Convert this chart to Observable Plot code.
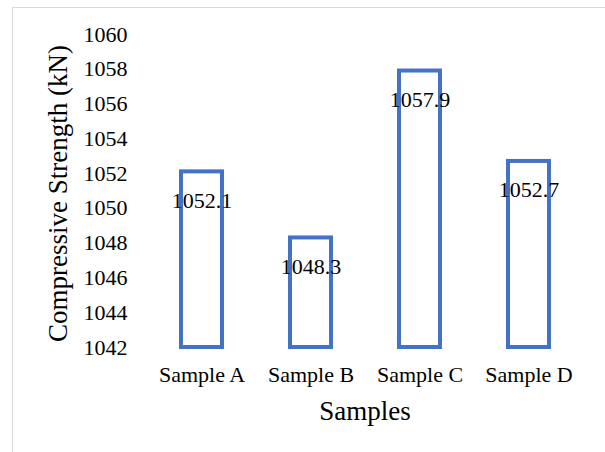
<!DOCTYPE html>
<html>
<head>
<meta charset="utf-8">
<script src="https://cdn.jsdelivr.net/npm/d3@7"></script>
<script src="https://cdn.jsdelivr.net/npm/@observablehq/plot@0.6"></script>
<style>
  html, body { margin: 0; padding: 0; background: #fff; }
  #wrap { position: relative; width: 605px; height: 452px; overflow: hidden; }
  #border { position: absolute; left: 12px; top: 7px; width: 700px; height: 600px;
            border-left: 1px solid #d9d9d9; border-top: 1px solid #d9d9d9; pointer-events: none; }
  #chart { position: absolute; left: 0; top: 0; }
</style>
</head>
<body>
<div id="wrap"><div id="chart"></div><div id="border"></div></div>
<script>
const samples = ["Sample A", "Sample B", "Sample C", "Sample D"];
const strengths = [1052.1, 1048.3, 1057.9, 1052.7];
const yTicks = [1042, 1044, 1046, 1048, 1050, 1052, 1054, 1056, 1058, 1060];
const xTitle = "Samples";
const yTitle = "Compressive Strength (kN)";

const data = samples.map((s, i) => ({sample: s, value: strengths[i]}));
const serif = "'Liberation Serif', 'Times New Roman', serif";

const chart = Plot.plot({
  width: 605,
  height: 452,
  marginLeft: 145,
  marginRight: 21,
  marginTop: 34,
  marginBottom: 105,
  style: {fontFamily: serif, fontSize: "22px", color: "#000", background: "transparent"},
  x: {domain: samples, paddingInner: 0.625, paddingOuter: 0.3125, label: null},
  y: {domain: [1042, 1060], label: null},
  marks: [
    Plot.axisY({ticks: yTicks, tickSize: 0, tickPadding: 18, label: null, tickFormat: d => String(d)}),
    Plot.axisX({tickSize: 0, tickPadding: 19, label: null}),
    Plot.barY(data, {x: "sample", y1: 1042, y2: "value", fill: "white", stroke: "#4472C4", strokeWidth: 4}),
    Plot.text(data, {x: "sample", y: "value", text: d => d.value.toFixed(1), dy: 28.6, fontSize: 22, fontFamily: serif, fill: "#000"}),
    Plot.text([xTitle], {frameAnchor: "bottom", textAnchor: "middle", lineAnchor: "middle", dy: 63.4, fontSize: 27, fontFamily: serif, fill: "#000"}),
    Plot.text([yTitle], {frameAnchor: "left", textAnchor: "middle", lineAnchor: "middle", dx: -87.6, dy: 2.5, rotate: -90, fontSize: 27, fontFamily: serif, fill: "#000"})
  ]
});
document.getElementById("chart").appendChild(chart);
</script>
</body>
</html>
